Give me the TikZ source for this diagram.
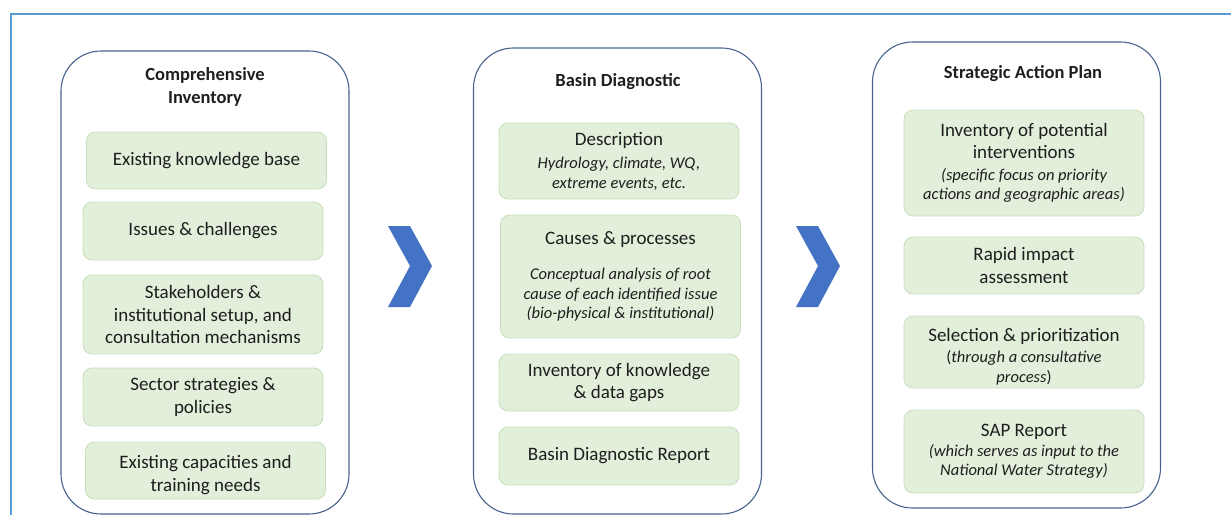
\documentclass[tikz,border=0pt]{standalone}
\usepackage{fontspec}
\setmainfont{Carlito}
\usetikzlibrary{positioning}

\definecolor{framecol}{RGB}{91,155,213}
\definecolor{panelline}{RGB}{72,98,142}
\definecolor{itemfill}{RGB}{226,239,218}
\definecolor{itemline}{RGB}{201,222,186}
\definecolor{chevcol}{RGB}{68,114,196}
\definecolor{inkcol}{RGB}{30,30,30}

\newcommand{\noteit}[1]{{\fontsize{16.5}{20}\selectfont\itshape #1}}
\newcommand{\toppad}{\rule{0pt}{22pt}}

\begin{document}
\begin{tikzpicture}[
    x=1pt, y=-1pt,
    panel/.style={rectangle, draw=panelline, line width=1.1pt, rounded corners=40pt, minimum width=288pt},
    heading/.style={text=inkcol, font=\fontsize{18.5}{23}\selectfont\bfseries, align=center},
    itembox/.style={rectangle, draw=itemline, fill=itemfill, line width=0.8pt, rounded corners=9pt,
        minimum width=240pt, text=inkcol, align=center, inner sep=0pt,
        font=\fontsize{19}{22.5}\selectfont}
]
    \useasboundingbox (0,0) rectangle (1231,515);
    % outer frame
    \draw[framecol, line width=1.8pt] (11,515) -- (11,14) -- (1231,14);

    % the three phases
    \node[panel, minimum height=463pt] (inv) at (205,282.5) {};
    \node[panel, minimum height=466pt] (diag) at (617.5,281) {};
    \node[panel, minimum height=466pt] (sap) at (1016.5,275) {};

    \node[heading] (invtitle) at (205,87) {Comprehensive\\Inventory};
    \node[heading] (diagtitle) at (618,82) {Basin Diagnostic};
    \node[heading] (saptitle) at (1023,74) {Strategic Action Plan};

    % comprehensive inventory
    \node[itembox, minimum height=57pt] (know) at (206.5,160.5) {Existing knowledge base};
    \node[itembox, minimum height=58pt] (issues) at (203,231) {Issues \& challenges};
    \node[itembox, minimum height=79pt] (stake) at (203,314.5) {Stakeholders \&\\institutional setup, and\\consultation mechanisms};
    \node[itembox, minimum height=58pt] (sector) at (203,397) {Sector strategies \&\\policies};
    \node[itembox, minimum height=57pt] (capac) at (205.5,470.5) {\toppad Existing capacities and\\training needs};

    % basin diagnostic
    \node[itembox, minimum height=76pt] (descr) at (619,161) {Description\\[1pt]\noteit{Hydrology, climate, WQ,}\\[-3pt]\noteit{extreme events, etc.}};
    \node[itembox, minimum height=123pt] (causes) at (620.5,276.5) {Causes \& processes\\[13pt]\noteit{Conceptual analysis of root}\\[-3pt]\noteit{cause of each identified issue}\\[-3pt]\noteit{(bio-physical \& institutional)}};
    \node[itembox, minimum height=57pt] (gaps) at (619,382.5) {Inventory of knowledge\\\& data gaps};
    \node[itembox, minimum height=58pt] (bdrep) at (619,456) {Basin Diagnostic Report};

    % strategic action plan
    \node[itembox, minimum height=106pt] (interv) at (1024,163) {Inventory of potential\\interventions\\[-1pt]\noteit{(specific focus on priority}\\[-3pt]\noteit{actions and geographic areas)}};
    \node[itembox, minimum height=57pt] (rapid) at (1024,265.5) {Rapid impact\\assessment};
    \node[itembox, minimum height=72pt] (select) at (1024,352) {\toppad Selection \& prioritization\\[-1pt]{\fontsize{16.5}{20}\selectfont(\textit{through a consultative}}\\[-3pt]{\fontsize{16.5}{20}\selectfont\textit{process})}};
    \node[itembox, minimum height=83pt] (sapreport) at (1024,451.5) {SAP Report\\[-3pt]\noteit{(which serves as input to the}\\[-3pt]\noteit{National Water Strategy)}};

    % chevrons between phases
    \foreach \cx in {410,818}
        \fill[chevcol] (\cx-22,226) -- (\cx,226) -- (\cx+22,266) -- (\cx,307) -- (\cx-22,307) -- (\cx,266) -- cycle;
\end{tikzpicture}
\end{document}
